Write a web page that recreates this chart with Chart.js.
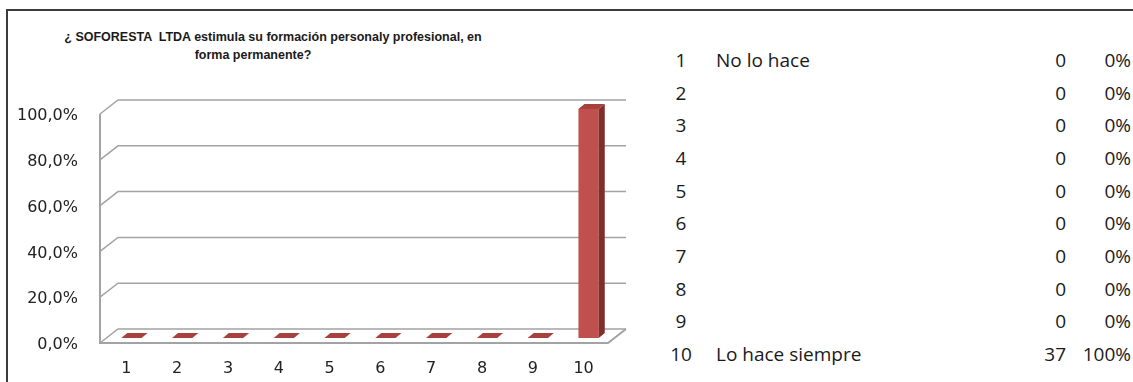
<!DOCTYPE html>
<html>
<head>
<meta charset="utf-8">
<script src="https://cdn.jsdelivr.net/npm/chart.js@4.4.0/dist/chart.umd.min.js"></script>
<style>
  html, body { margin: 0; padding: 0; background: #fff; }
  body { width: 1133px; height: 382px; position: relative; overflow: hidden; }
  .frame { position: absolute; left: 6px; top: 9px; width: 1140px; height: 390px;
           border-top: 2px solid #3c3c3c; border-left: 2px solid #3c3c3c; }
  .title { position: absolute; font: bold 12.5px 'Liberation Sans', Arial, sans-serif;
           color: #1a1a1a; white-space: pre; transform: translate(-50%, -50%); }
  #chartBox { position: absolute; left: 0; top: 0; width: 640px; height: 382px; }
  .cell { position: absolute; font-family: 'Open Sans', sans-serif; font-size: 19px;
          color: #1a1a1a; white-space: nowrap; height: 26px; line-height: 26px; }
</style>
</head>
<body>
<div class="frame"></div>
<div class="title" style="left:273px; top:37px;">¿ SOFORESTA  LTDA estimula su formación personaly profesional, en</div>
<div class="title" style="left:253px; top:55px;">forma permanente?</div>
<div id="chartBox"><canvas id="myChart" width="640" height="382"></canvas></div>
<div id="table"></div>

<script>
const categories = ['1', '2', '3', '4', '5', '6', '7', '8', '9', '10'];
const answerLabels = ['No lo hace', '', '', '', '', '', '', '', '', 'Lo hace siempre'];
const counts = [0, 0, 0, 0, 0, 0, 0, 0, 0, 37];
const percents = [0, 0, 0, 0, 0, 0, 0, 0, 0, 100];
const yTicks = [0, 20, 40, 60, 80, 100];

// depth offsets relative to the bar plane
const FRONT = { dx: -6, dy: 5 };
const BACK = { dx: 12, dy: -9 };
const DEPTH = { dx: 6, dy: -5 };

// side table
const table = document.getElementById('table');
categories.forEach((c, i) => {
  const mid = 60 + i * 32.67;
  const top = (mid - 13) + 'px';
  table.insertAdjacentHTML('beforeend',
    `<div class="cell" style="top:${top}; left:656px; width:50px; text-align:center;">${c}</div>` +
    `<div class="cell" style="top:${top}; left:716px;">${answerLabels[i]}</div>` +
    `<div class="cell" style="top:${top}; left:1000px; width:66px; text-align:right;">${counts[i]}</div>` +
    `<div class="cell" style="top:${top}; left:1060px; width:71px; text-align:right;">${percents[i]}%</div>`);
});

function poly(ctx, pts) {
  ctx.beginPath();
  ctx.moveTo(pts[0][0], pts[0][1]);
  pts.slice(1).forEach(p => ctx.lineTo(p[0], p[1]));
  ctx.closePath();
  ctx.fill();
}

const wall3d = {
  id: 'wall3d',
  beforeDatasetsDraw(chart) {
    const { ctx, chartArea: a, scales: { y } } = chart;
    ctx.save();
    ctx.strokeStyle = '#a3a3a3';
    ctx.lineWidth = 1.5;
    y.ticks.forEach(t => {
      const py = y.getPixelForValue(t.value);
      ctx.beginPath();
      ctx.moveTo(a.left + FRONT.dx, py + FRONT.dy);
      ctx.lineTo(a.left + BACK.dx, py + BACK.dy);
      ctx.lineTo(a.right + BACK.dx, py + BACK.dy);
      ctx.stroke();
    });
    const top = y.getPixelForValue(y.max);
    const base = y.getPixelForValue(0);
    ctx.lineWidth = 2;
    ctx.beginPath();
    ctx.moveTo(a.left + FRONT.dx, top + FRONT.dy);
    ctx.lineTo(a.left + FRONT.dx, base + FRONT.dy);
    ctx.lineTo(a.right + FRONT.dx, base + FRONT.dy);
    ctx.lineTo(a.right + BACK.dx, base + BACK.dy);
    ctx.stroke();
    ctx.restore();
  }
};

const bar3d = {
  id: 'bar3d',
  afterDatasetsDraw(chart) {
    const { ctx } = chart;
    ctx.save();
    chart.getDatasetMeta(0).data.forEach(bar => {
      const { x, y, base, width } = bar.getProps(['x', 'y', 'base', 'width'], true);
      const l = x - width / 2, r = x + width / 2;
      ctx.fillStyle = '#a8413e';
      poly(ctx, [[l, y], [r, y], [r + DEPTH.dx, y + DEPTH.dy], [l + DEPTH.dx, y + DEPTH.dy]]);
      if (base - y > 0.5) {
        ctx.fillStyle = '#7e2f2c';
        poly(ctx, [[r, y], [r + DEPTH.dx, y + DEPTH.dy], [r + DEPTH.dx, base + DEPTH.dy], [r, base]]);
      }
    });
    ctx.restore();
  }
};

const tickFont = { family: 'DejaVu Sans', size: 16 };

new Chart(document.getElementById('myChart'), {
  type: 'bar',
  data: {
    labels: categories,
    datasets: [{
      data: percents,
      backgroundColor: '#c0504d',
      categoryPercentage: 0.4,
      barPercentage: 1
    }]
  },
  options: {
    responsive: false,
    animation: false,
    layout: { padding: { top: 109, right: 26, left: 0, bottom: 0 } },
    plugins: {
      legend: { display: false },
      tooltip: { enabled: false }
    },
    scales: {
      x: {
        grid: { display: false, drawTicks: false },
        border: { display: false },
        ticks: { padding: 21, labelOffset: -5, color: '#222', font: tickFont },
        afterFit(s) { s.height = 44; }
      },
      y: {
        min: 0,
        max: 100,
        afterBuildTicks(s) { s.ticks = yTicks.map(v => ({ value: v })); },
        grid: { display: false, drawTicks: false },
        border: { display: false },
        ticks: {
          padding: 28,
          labelOffset: 7,
          color: '#222',
          font: tickFont,
          callback: v => v.toFixed(1).replace('.', ',') + '%'
        },
        afterFit(s) { s.width = 106; }
      }
    }
  },
  plugins: [wall3d, bar3d]
});
</script>
</body>
</html>
